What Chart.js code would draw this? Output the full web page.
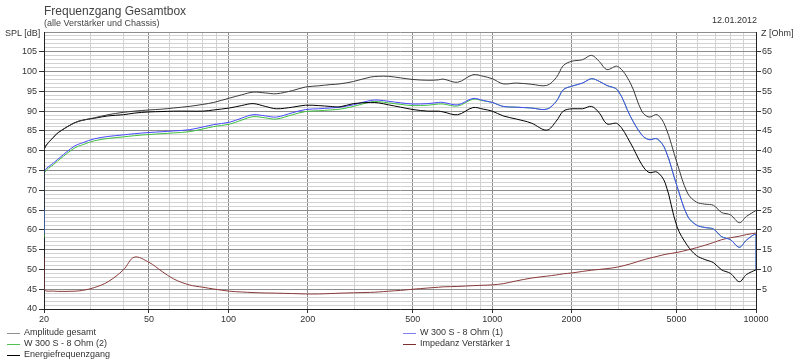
<!DOCTYPE html>
<html>
<head>
<meta charset="utf-8">
<script src="https://cdn.jsdelivr.net/npm/chart.js@4"></script>
<style>
  html, body { margin: 0; padding: 0; background: #fff; }
  #wrap { position: relative; width: 800px; height: 360px; font-family: "Liberation Sans", Arial, sans-serif; color: #333; }
  canvas { position: absolute; left: 0; top: 0; }
  .txt { position: absolute; white-space: nowrap; line-height: 1; }
  .leg { position: absolute; font-size: 9px; line-height: 1; white-space: nowrap; padding-left: 17px; }
  .leg i { position: absolute; left: 0; top: 5px; width: 13px; height: 1px; }
</style>
</head>
<body>
<div id="wrap">
  <canvas id="fr" width="800" height="360"></canvas>
  <div class="txt" style="left:44px;top:5px;font-size:12px;color:#444">Frequenzgang Gesamtbox</div>
  <div class="txt" style="left:44px;top:19px;font-size:9px;color:#444">(alle Verstärker und Chassis)</div>
  <div class="txt" style="left:712px;top:16px;font-size:9px">12.01.2012</div>
  <div class="txt" style="left:5px;top:29px;font-size:9px">SPL [dB]</div>
  <div class="txt" style="left:761px;top:29px;font-size:9px">Z [Ohm]</div>
  <div class="leg" style="left:7px;top:328px"><i style="background:#909090"></i>Amplitude gesamt</div>
  <div class="leg" style="left:7px;top:339px"><i style="background:#50c050"></i>W 300 S - 8 Ohm (2)</div>
  <div class="leg" style="left:7px;top:350px"><i style="background:#000"></i>Energiefrequenzgang</div>
  <div class="leg" style="left:403px;top:328px"><i style="background:#8080f0"></i>W 300 S - 8 Ohm (1)</div>
  <div class="leg" style="left:403px;top:339px"><i style="background:#7a3030"></i>Impedanz Verstärker 1</div>
</div>
<script>
// Frequenzen (Hz) — 20 und 10000 doppelt für die Randsprünge
const freqs = [20, 20, 22, 23, 26, 28, 31, 35, 40, 44, 50, 56, 62, 71, 80, 88, 101, 112, 124, 138, 152, 175, 196, 220, 243, 265, 298, 345, 370, 404, 450, 501, 570, 625, 652, 740, 845, 925, 1000, 1100, 1235, 1405, 1610, 1750, 1860, 2000, 2200, 2380, 2550, 2720, 2990, 3340, 3690, 3930, 4220, 4530, 5020, 5500, 5950, 6400, 6900, 7400, 8000, 8650, 9200, 10000, 10000];

// SPL [dB]
const amplitudeGesamt = [65, 80, 83.8, 84.9, 87, 87.7, 88.3, 89.1, 89.7, 90, 90.3, 90.5, 90.8, 91.2, 91.7, 92.2, 93.3, 94.1, 94.8, 94.6, 94.4, 95.2, 96.1, 96.4, 96.7, 96.9, 97.5, 98.6, 98.8, 98.8, 98.4, 98, 97.8, 97.9, 98.1, 97.3, 99.2, 98.8, 98.2, 96.9, 97.1, 96.8, 96.5, 98.5, 101.5, 102.6, 103, 104.1, 102.5, 100.5, 101.3, 97.1, 90, 88.5, 89.1, 86.2, 76.9, 69.3, 67, 66.5, 66.2, 64.4, 63.8, 61.8, 63.4, 64.9, 64.9];
const energie = [65, 80, 83.8, 84.9, 87, 87.7, 88.2, 88.8, 89.1, 89.5, 89.8, 89.9, 90, 90, 90, 90.3, 90.8, 91.4, 91.9, 91.2, 90.6, 91, 91.5, 91.4, 91.2, 91.1, 91.9, 92.2, 92.1, 91.6, 91, 90.4, 90, 90, 89.8, 89.1, 90.9, 90.5, 90, 88.8, 88, 87, 85.2, 87.5, 90, 90.6, 90.6, 91.2, 89.5, 86.8, 86.8, 82, 76.5, 74.5, 74.6, 71.8, 60.8, 56, 53.5, 52.5, 51.7, 49.9, 49, 46.9, 48.7, 49.9, 49.9];
const w300s1 = [59, 74.4, 77.2, 78.3, 81.1, 82, 83, 83.6, 84, 84.3, 84.6, 84.8, 85, 85.3, 86, 86.6, 87.2, 88.2, 89.1, 88.8, 88.5, 89.6, 90.4, 90.6, 90.8, 91, 91.6, 92.7, 92.8, 92.5, 92.1, 91.8, 91.9, 92.2, 92.2, 91.6, 93.2, 92.7, 92.2, 91.2, 91, 90.8, 90.5, 92.5, 95.4, 96.3, 97.1, 98.2, 97.5, 96.5, 95.3, 88.7, 84, 82.8, 83, 80.3, 71, 63.5, 61.2, 60.6, 60.2, 58.3, 57.5, 55.6, 57.4, 58.7, 50];
const w300s2 = [58, 74, 76.8, 77.9, 80.6, 81.5, 82.5, 83.1, 83.5, 83.8, 84.1, 84.3, 84.5, 84.8, 85.5, 86.1, 86.7, 87.7, 88.6, 88.3, 88, 89.1, 89.9, 90.1, 90.3, 90.5, 91.2, 92.3, 92.4, 92.1, 91.7, 91.4, 91.5, 91.8, 91.8, 91.3, 93, 92.6, 92.2, 91.2, 91, 90.8, 90.5, 92.5, 95.4, 96.3, 97.1, 98.2, 97.5, 96.5, 95.3, 88.7, 84, 82.8, 83, 80.3, 71, 63.5, 61.2, 60.6, 60.2, 58.3, 57.5, 55.6, 57.4, 58.7, 50];
// Z [Ohm]
const impedanz = [13, 5, 4.5, 4.45, 4.5, 4.7, 5.4, 6.9, 9.9, 13.1, 11.8, 9.5, 7.6, 6.1, 5.5, 5.05, 4.5, 4.3, 4.15, 4.05, 4, 3.9, 3.8, 3.8, 3.9, 4, 4.1, 4.2, 4.3, 4.5, 4.7, 5, 5.3, 5.5, 5.6, 5.7, 5.9, 6, 6.1, 6.4, 7.1, 7.8, 8.3, 8.6, 8.9, 9.1, 9.5, 9.8, 10, 10.2, 10.6, 11.4, 12.3, 12.8, 13.3, 13.8, 14.3, 14.9, 15.5, 16.1, 16.8, 17.5, 18, 18.4, 18.8, 19.2, 19.2];

const xGrid = [20, 30, 40, 50, 60, 70, 80, 90, 100, 200, 300, 400, 500, 600, 700, 800, 900, 1000, 2000, 3000, 4000, 5000, 6000, 7000, 8000, 9000, 10000];
const xLabels = [20, 50, 100, 200, 500, 1000, 2000, 5000, 10000];

const pts = arr => freqs.map((f, i) => ({ x: f, y: arr[i] }));
const line = (label, data, color, axis) => ({
  label, data: pts(data), borderColor: color, borderWidth: 1,
  pointRadius: 0, tension: 0.35, fill: false, yAxisID: axis,
});

const tickFont = { family: '"Liberation Sans", Arial, sans-serif', size: 9 };

// Datensatz 0 liegt oben
new Chart(document.getElementById('fr'), {
  type: 'line',
  data: {
    datasets: [
      line('Amplitude gesamt', amplitudeGesamt, '#3a3a3a', 'spl'),
      line('Energiefrequenzgang', energie, '#000000', 'spl'),
      line('W 300 S - 8 Ohm (1)', w300s1, '#4848ff', 'spl'),
      line('W 300 S - 8 Ohm (2)', w300s2, '#40c040', 'spl'),
      line('Impedanz Verstärker 1', impedanz, '#8b3a3a', 'z'),
    ],
  },
  options: {
    responsive: false,
    animation: false,
    layout: { padding: { top: 32, left: 0, right: 0, bottom: 0 } },
    plugins: { legend: { display: false }, tooltip: { enabled: false } },
    scales: {
      x: {
        type: 'logarithmic', min: 20, max: 10000,
        afterBuildTicks: s => { s.ticks = xGrid.map(v => ({ value: v })); },
        afterFit: s => { s.height = 51; },
        ticks: {
          autoSkip: false, maxRotation: 0, padding: 1, color: '#333', font: tickFont,
          callback: v => xLabels.includes(v) ? String(v) : '',
        },
        grid: {
          color: c => (c.tick && xLabels.includes(c.tick.value)) ? '#8c8c8c' : '#d2d2d2',
          tickLength: 4,
          tickColor: c => (c.tick && xLabels.includes(c.tick.value)) ? '#333' : 'rgba(0,0,0,0)',
        },
        border: { color: '#222' },
      },
      spl: {
        position: 'left', min: 40, max: 110,
        afterBuildTicks: s => { const t = []; for (let v = 40; v <= 110; v++) t.push({ value: v }); s.ticks = t; },
        afterFit: s => { s.width = 44; },
        ticks: {
          autoSkip: false, padding: 2, color: '#333', font: tickFont,
          callback: v => (v % 5 === 0 && v < 110) ? String(v) : '',
        },
        grid: {
          color: c => (c.tick && c.tick.value % 5 === 0) ? '#8c8c8c' : '#d2d2d2',
          tickLength: 5,
          tickColor: c => (c.tick && c.tick.value % 5 === 0 && c.tick.value < 110) ? '#333' : 'rgba(0,0,0,0)',
        },
        border: { color: '#222' },
      },
      z: {
        position: 'right', min: 0, max: 70,
        afterBuildTicks: s => { const t = []; for (let v = 5; v <= 65; v += 5) t.push({ value: v }); s.ticks = t; },
        afterFit: s => { s.width = 44; },
        ticks: { autoSkip: false, padding: 1, color: '#333', font: tickFont },
        grid: { drawOnChartArea: false, tickLength: 5, tickColor: '#333' },
        border: { color: '#222' },
      },
    },
  },
});
</script>
</body>
</html>
